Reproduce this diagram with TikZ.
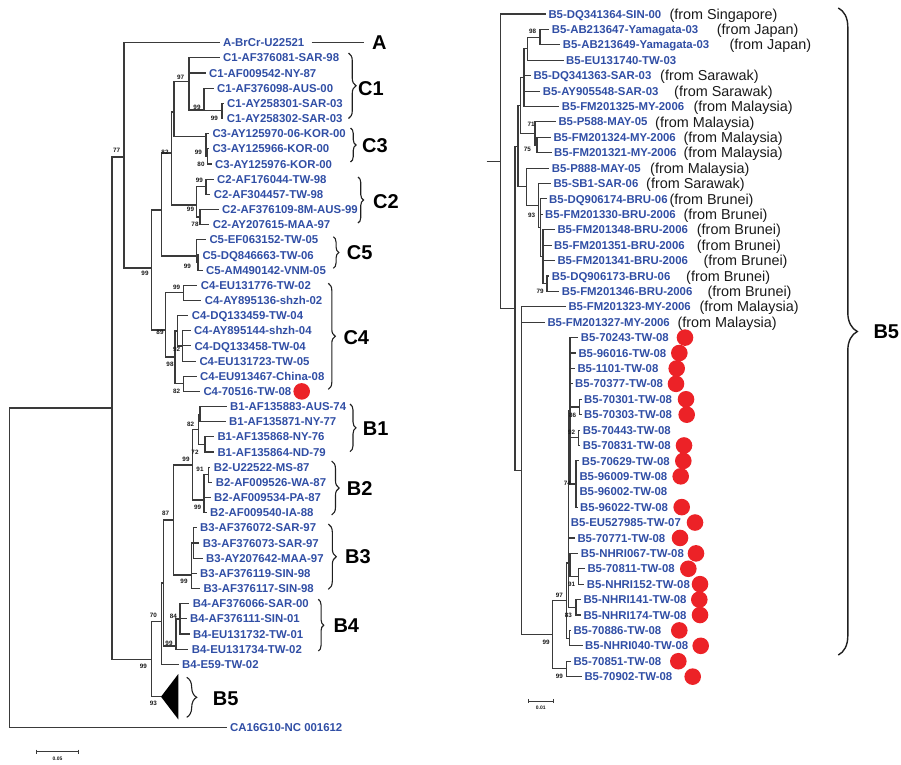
\documentclass[tikz,border=0pt]{standalone}
\usepackage{fontspec}
\setmainfont{Liberation Sans}
\usetikzlibrary{decorations.pathreplacing}
\definecolor{leafblue}{RGB}{48,78,165}
\definecolor{dotred}{RGB}{236,34,39}
\definecolor{treegray}{RGB}{58,58,58}
\newcommand\labfont{\fontsize{11.4}{13}\selectfont\bfseries}
\newcommand\ctryfont{\fontsize{14.4}{16}\selectfont}
\newcommand\bsfont{\fontsize{6.3}{7}\selectfont\bfseries}
\newcommand\grpfont{\fontsize{20}{22}\selectfont\bfseries}
\newcommand\sbfont{\fontsize{5}{6}\selectfont\bfseries}
% leaf rows: left tree and right (B5) tree
\newcommand\LY[1]{42.7+15.16*(#1)}
\newcommand\RY[1]{14+15.41*(#1)}
\tikzset{
  br/.style={draw=treegray, line width=1.1pt},
  lab/.style={anchor=west, inner sep=0pt, font=\labfont, text=leafblue, text height=8.2pt, text depth=0pt},
  ctry/.style={anchor=west, inner sep=0pt, font=\ctryfont, text=black!90, text height=10.3pt, text depth=0pt},
  bs/.style={inner sep=0pt, font=\bsfont, text=black!90},
  grp/.style={anchor=west, inner sep=0pt, font=\grpfont, text height=14.4pt, text depth=0pt},
  brc/.style={draw=black!88, line width=1.1pt, decorate, decoration={brace, amplitude=#1}},
  dot/.style={circle, fill=dotred, minimum size=16.6pt, inner sep=0pt},
}
\begin{document}
\begin{tikzpicture}[x=1pt, y=-1pt]
\useasboundingbox (0,0) rectangle (901,764);

% ---------------- left tree: leaves ----------------
\foreach \i/\x/\t in {
  0/223/A-BrCr-U22521, 1/223/C1-AF376081-SAR-98, 2/209/C1-AF009542-NY-87,
  3/217/C1-AF376098-AUS-00, 4/227/C1-AY258301-SAR-03, 5/226.7/C1-AY258302-SAR-03,
  6/212.3/C3-AY125970-06-KOR-00, 7/212.3/C3-AY125966-KOR-00, 8/215/C3-AY125976-KOR-00,
  9/217/C2-AF176044-TW-98, 10/213.7/C2-AF304457-TW-98, 11/222/C2-AF376109-8M-AUS-99,
  12/212.7/C2-AY207615-MAA-97, 13/209.3/C5-EF063152-TW-05, 14/202.3/C5-DQ846663-TW-06,
  15/206/C5-AM490142-VNM-05, 16/200.7/C4-EU131776-TW-02, 17/204.7/C4-AY895136-shzh-02,
  18/191.7/C4-DQ133459-TW-04, 19/194/C4-AY895144-shzh-04, 20/194.3/C4-DQ133458-TW-04,
  21/199.3/C4-EU131723-TW-05, 22/200/C4-EU913467-China-08, 23/203.3/C4-70516-TW-08,
  24/230/B1-AF135883-AUS-74, 25/229/B1-AF135871-NY-77, 26/217.3/B1-AF135868-NY-76,
  27/217.3/B1-AF135864-ND-79, 28/213.7/B2-U22522-MS-87, 29/215.7/B2-AF009526-WA-87,
  30/214/B2-AF009534-PA-87, 31/210/B2-AF009540-IA-88, 32/200/B3-AF376072-SAR-97,
  33/202.7/B3-AF376073-SAR-97, 34/206/B3-AY207642-MAA-97, 35/200/B3-AF376119-SIN-98,
  36/203.3/B3-AF376117-SIN-98, 37/192.7/B4-AF376066-SAR-00, 38/190/B4-AF376111-SIN-01,
  39/193/B4-EU131732-TW-01, 40/191.7/B4-EU131734-TW-02, 41/182/B4-E59-TW-02}
  \node[lab] (l\i) at (\x,{\LY{\i}}) {\t};
\node[lab] (lCA) at (230,727.3) {CA16G10-NC 001612};
\node[dot] (dL23) at (301.7,{\LY{23}}) {};

% ---------------- left tree: internal nodes ----------------
\coordinate (ROOT) at (9.3,567);
\coordinate (R2) at (112,408);
\coordinate (AC) at (124,157);
\coordinate (NC) at (151.7,268);
\coordinate (NC1) at (161.7,210);
\coordinate (NC13) at (171.7,153);
\coordinate (NC1C3) at (174,112);
\coordinate (C1n) at (189,81.7);
\coordinate (C1cde) at (204,110);
\coordinate (C1de) at (222,110.9);
\coordinate (C3n) at (206,136.7);
\coordinate (C3bc) at (207.5,156.4);
\coordinate (C2n) at (196.7,205);
\coordinate (C2ab) at (206,186.7);
\coordinate (C2cd) at (200,217);
\coordinate (C5n) at (196.7,256);
\coordinate (C5bc) at (198,262.5);
\coordinate (C4n) at (165.7,330);
\coordinate (C4ab) at (183.3,292.8);
\coordinate (C4r) at (175,357);
\coordinate (C4cdef) at (177.3,331);
\coordinate (C4def) at (182.7,346);
\coordinate (C4gh) at (183.3,383.8);
\coordinate (NB) at (151.7,659.3);
\coordinate (N70) at (161.7,621.7);
\coordinate (N87) at (163.3,583);
\coordinate (NB123) at (173.3,520);
\coordinate (NB12) at (192.7,465);
\coordinate (B1n) at (198.3,429.3);
\coordinate (B1ab) at (200,414.1);
\coordinate (B1cd) at (205,444.4);
\coordinate (B2n) at (204,500);
\coordinate (B2ab) at (208.3,474.8);
\coordinate (B3n) at (191.7,575);
\coordinate (B3abc) at (193.3,543);
\coordinate (NB4) at (176,646);
\coordinate (B4abc) at (180,619);
\coordinate (B5apex) at (161,696.7);

% collapsed B5 clade
\fill[black] (B5apex) -- ++(17.3,-22.7) -- ++(0,45.4) -- cycle;

% branches between internal nodes
\foreach \p/\c in {ROOT/R2, R2/AC, R2/NB, AC/NC, NC/NC1, NC/C4n, NC1/NC13, NC1/C5n,
  NC13/NC1C3, NC13/C2n, NC1C3/C1n, NC1C3/C3n, C1n/C1cde, C1cde/C1de, C3n/C3bc,
  C2n/C2ab, C2n/C2cd, C5n/C5bc, C4n/C4ab, C4n/C4r, C4r/C4cdef, C4r/C4gh, C4cdef/C4def,
  NB/N70, NB/B5apex, N70/N87, N87/NB123, N87/NB4, NB123/NB12, NB123/B3n, NB12/B1n,
  NB12/B2n, B1n/B1ab, B1n/B1cd, B2n/B2ab, B3n/B3abc, NB4/B4abc}
  \draw[br] (\p) |- (\c);
% branches to leaves
\foreach \p/\c in {ROOT/lCA, AC/l0, C1n/l1, C1n/l2, C1cde/l3, C1de/l4, C1de/l5,
  C3n/l6, C3bc/l7, C3bc/l8, C2ab/l9, C2ab/l10, C2cd/l11, C2cd/l12, C5n/l13, C5bc/l14,
  C5bc/l15, C4ab/l16, C4ab/l17, C4cdef/l18, C4def/l19, C4def/l20, C4def/l21, C4gh/l22,
  C4gh/l23, B1ab/l24, B1ab/l25, B1cd/l26, B1cd/l27, B2ab/l28, B2ab/l29, B2n/l30,
  B2n/l31, B3abc/l32, B3abc/l33, B3abc/l34, B3n/l35, B3n/l36, B4abc/l37, B4abc/l38,
  B4abc/l39, NB4/l40, N70/l41}
  \draw[br] (\p) |- ([xshift=-3.5pt]\c.west);

% bootstrap values, left tree
\foreach \x/\y/\t [count=\k] in {116.7/150/77, 180.7/77/97, 197/107.3/99, 214.3/118.3/99,
  165/152.7/82, 198.3/152.3/99, 201/164/80, 199.3/180/99, 190.5/209.3/99, 195/224.5/78,
  187.3/266.7/99, 145/273.3/99, 176.7/287.5/99, 160/332.3/89, 176.7/349.3/92,
  170/364.3/98, 176.7/391.7/82, 190.7/424/82, 195/452/72, 186/459/99, 200/469/91,
  197.7/507/99, 165.7/513.3/87, 184/581.7/99, 153.3/615/70, 173.3/616.7/84, 169/643/99,
  143.3/666.7/99, 153.3/703/93}
  \node[bs] (bsL\k) at (\x,\y) {\t};

% genogroup labels and braces, left tree
\node[grp] (gA) at (372,{\LY{0}}) {A};
\draw[br] ([xshift=7pt]l0.east) -- ([xshift=-8pt]gA.west);
\foreach \x/\ya/\yb/\a/\lx/\ly/\t in {348.5/53/118.5/7.5/358/88/C1, 350.5/128/162/5.5/362/145.5/C3,
  358/177/223/5.5/373/201/C2, 333.3/236.7/268.3/5.5/346.7/252/C5, 328.3/283.3/389.3/7/343.3/337/C4,
  350/404/451.7/6/362.7/428/B1, 331.7/461/515/7.5/346.7/488/B2, 328.3/524/589.3/8/345/556.7/B3,
  318.3/599.3/651/5.5/333.3/625/B4, 186.7/677.3/717.3/10/212.7/698/B5}
{
  \draw[brc=\a] (\x,\ya) -- (\x,\yb);
  \node[grp] (g\t) at (\lx,\ly) {\t};
}

% scale bar, left tree
\coordinate (sbLa) at (36.7,751.7);
\coordinate (sbLb) at (78.3,751.7);
\draw[br, line width=0.8pt] (sbLa) -- (sbLb);
\draw[br, line width=0.8pt] ([yshift=2.2pt]sbLa) -- ([yshift=-2.2pt]sbLa);
\draw[br, line width=0.8pt] ([yshift=2.2pt]sbLb) -- ([yshift=-2.2pt]sbLb);
\node[bs, font=\sbfont] (sbLt) at (57.5,758.5) {0.05};

% ---------------- right tree: leaves ----------------
\foreach \i/\x/\t in {
  0/548.3/B5-DQ341364-SIN-00, 1/551.7/B5-AB213647-Yamagata-03, 2/562.7/B5-AB213649-Yamagata-03,
  3/566/B5-EU131740-TW-03, 4/533.3/B5-DQ341363-SAR-03, 5/542.7/B5-AY905548-SAR-03,
  6/561.7/B5-FM201325-MY-2006, 7/558.3/B5-P588-MAY-05, 8/553.3/B5-FM201324-MY-2006,
  9/554/B5-FM201321-MY-2006, 10/551.7/B5-P888-MAY-05, 11/553.3/B5-SB1-SAR-06,
  12/549/B5-DQ906174-BRU-06, 13/545/B5-FM201330-BRU-2006, 14/557.3/B5-FM201348-BRU-2006,
  15/554/B5-FM201351-BRU-2006, 16/557.3/B5-FM201341-BRU-2006, 17/551.7/B5-DQ906173-BRU-06,
  18/561.7/B5-FM201346-BRU-2006, 19/568.3/B5-FM201323-MY-2006, 20/547.3/B5-FM201327-MY-2006,
  21/580.7/B5-70243-TW-08, 22/578.3/B5-96016-TW-08, 23/577.3/B5-1101-TW-08,
  24/575/B5-70377-TW-08, 25/584/B5-70301-TW-08, 26/584/B5-70303-TW-08,
  27/582.7/B5-70443-TW-08, 28/582.7/B5-70831-TW-08, 29/581.7/B5-70629-TW-08,
  30/579.3/B5-96009-TW-08, 31/579.3/B5-96002-TW-08, 32/580/B5-96022-TW-08,
  33/570.7/B5-EU527985-TW-07, 34/577.3/B5-70771-TW-08, 35/580.7/B5-NHRI067-TW-08,
  36/587.3/B5-70811-TW-08, 37/586.7/B5-NHRI152-TW-08, 38/583.3/B5-NHRI141-TW-08,
  39/583.3/B5-NHRI174-TW-08, 40/573.3/B5-70886-TW-08, 41/585/B5-NHRI040-TW-08,
  42/573.3/B5-70851-TW-08, 43/584.3/B5-70902-TW-08}
  \node[lab] (r\i) at (\x,{\RY{\i}}) {\t};

% place of origin
\foreach \i/\x/\t in {0/669.3/Singapore, 1/716.7/Japan, 2/729.3/Japan, 4/660/Sarawak,
  5/674/Sarawak, 6/693.3/Malaysia, 7/655/Malaysia, 8/683.3/Malaysia, 9/683.3/Malaysia,
  10/650/Malaysia, 11/646/Sarawak, 12/669.3/Brunei, 13/683.3/Brunei, 14/696.7/Brunei,
  15/696.7/Brunei, 16/703.3/Brunei, 17/686/Brunei, 18/707.3/Brunei, 19/699.3/Malaysia,
  20/677.3/Malaysia}
  \node[ctry] (c\i) at (\x,{\RY{\i}}) {(from \t)};

% Taiwan 2008 isolates
\foreach \i/\x in {21/685, 22/679.3, 23/676.7, 24/676, 25/686, 26/686.7, 28/684,
  29/683.3, 30/680.7, 32/681.7, 33/695, 34/680, 35/696, 36/688.3, 37/700, 38/699.3,
  39/700, 40/679.3, 41/700.7, 42/678.3, 43/692.7}
  \node[dot] (d\i) at (\x,{\RY{\i}}) {};

% ---------------- right tree: internal nodes ----------------
\coordinate (RS) at (486.7,161.3);
\coordinate (RR) at (500.7,161.3);
\coordinate (R1) at (515,308.5);
\coordinate (RA) at (518,146.2);
\coordinate (RA1) at (520.7,105.5);
\coordinate (RA1a) at (524,77.6);
\coordinate (RA1c) at (527.3,48.7);
\coordinate (RA1d) at (540,37.1);
\coordinate (RA1b) at (535,133.4);
\coordinate (RA1e) at (537,145);
\coordinate (RA2) at (526.7,186.9);
\coordinate (RA2b) at (538.3,205.7);
\coordinate (RA2c) at (540.7,227.8);
\coordinate (RA2d) at (543,256.7);
\coordinate (RA2e) at (547,283.7);
\coordinate (RB) at (521.7,470.8);
\coordinate (RC) at (552.7,634.8);
\coordinate (RD) at (566.7,600.7);
\coordinate (RE) at (566.7,668.9);
\coordinate (RF) at (568.3,563);
\coordinate (RT) at (570,410.8);
\coordinate (R0301) at (579.3,407);
\coordinate (R0443) at (578.3,437.8);
\coordinate (R0629) at (576,484);
\coordinate (R91) at (570,565);
\coordinate (R0811) at (578.3,576.5);
\coordinate (R83) at (576,607.3);
\coordinate (R886) at (569.3,638.1);

\draw[br] (RS) -- (RR);
\foreach \p/\c in {RR/R1, R1/RA, R1/RB, RA/RA1, RA/RA2, RA1/RA1a, RA1/RA1b, RA1a/RA1c,
  RA1c/RA1d, RA1b/RA1e, RA2/RA2b, RA2b/RA2c, RA2c/RA2d, RA2d/RA2e, RB/RC, RC/RD, RC/RE,
  RD/RF, RD/R886, RF/RT, RF/R91, RF/R83, RT/R0301, RT/R0443, RT/R0629, R91/R0811}
  \draw[br] (\p) |- (\c);
\foreach \p/\c in {RR/r0, RA1d/r1, RA1d/r2, RA1c/r3, RA1a/r4, RA1a/r5, RA1a/r6,
  RA1b/r7, RA1e/r8, RA1e/r9, RA2/r10, RA2b/r11, RA2c/r12, RA2c/r13, RA2d/r14, RA2d/r15,
  RA2d/r16, RA2e/r17, RA2e/r18, RB/r19, RB/r20, RT/r21, RT/r22, RT/r23, RT/r24,
  R0301/r25, R0301/r26, R0443/r27, R0443/r28, R0629/r29, R0629/r30, R0629/r31,
  R0629/r32, RF/r33, RF/r34, R91/r35, R0811/r36, R0811/r37, R83/r38, R83/r39,
  R886/r40, R886/r41, RE/r42, RE/r43}
  \draw[br] (\p) |- ([xshift=-2.5pt]\c.west);

% bootstrap values, right tree
\foreach \x/\y/\t [count=\k] in {532.7/31.7/98, 531/124/71, 527.3/149/75, 531.7/215/93,
  540/291.7/79, 572.7/415/86, 571.7/432.7/92, 567.3/483.3/74, 571.7/584/91,
  559.3/595/97, 568.3/615/83, 546/642.7/99, 559.3/676.7/99}
  \node[bs] (bsR\k) at (\x,\y) {\t};

% genotype B5 brace
\coordinate (bR1) at (838.3,8);
\coordinate (bR2) at (838.3,655);
\draw[brc=19, line width=1.4pt] (bR1) -- (bR2);
\node[grp] (gRB5) at (873.3,331.7) {B5};

% scale bar, right tree
\coordinate (sbRa) at (528.3,701);
\coordinate (sbRb) at (553.3,701);
\draw[br, line width=0.8pt] (sbRa) -- (sbRb);
\draw[br, line width=0.8pt] ([yshift=2.2pt]sbRa) -- ([yshift=-2.2pt]sbRa);
\draw[br, line width=0.8pt] ([yshift=2.2pt]sbRb) -- ([yshift=-2.2pt]sbRb);
\node[bs, font=\sbfont] (sbRt) at (540.8,707.7) {0.01};
\end{tikzpicture}
\end{document}
